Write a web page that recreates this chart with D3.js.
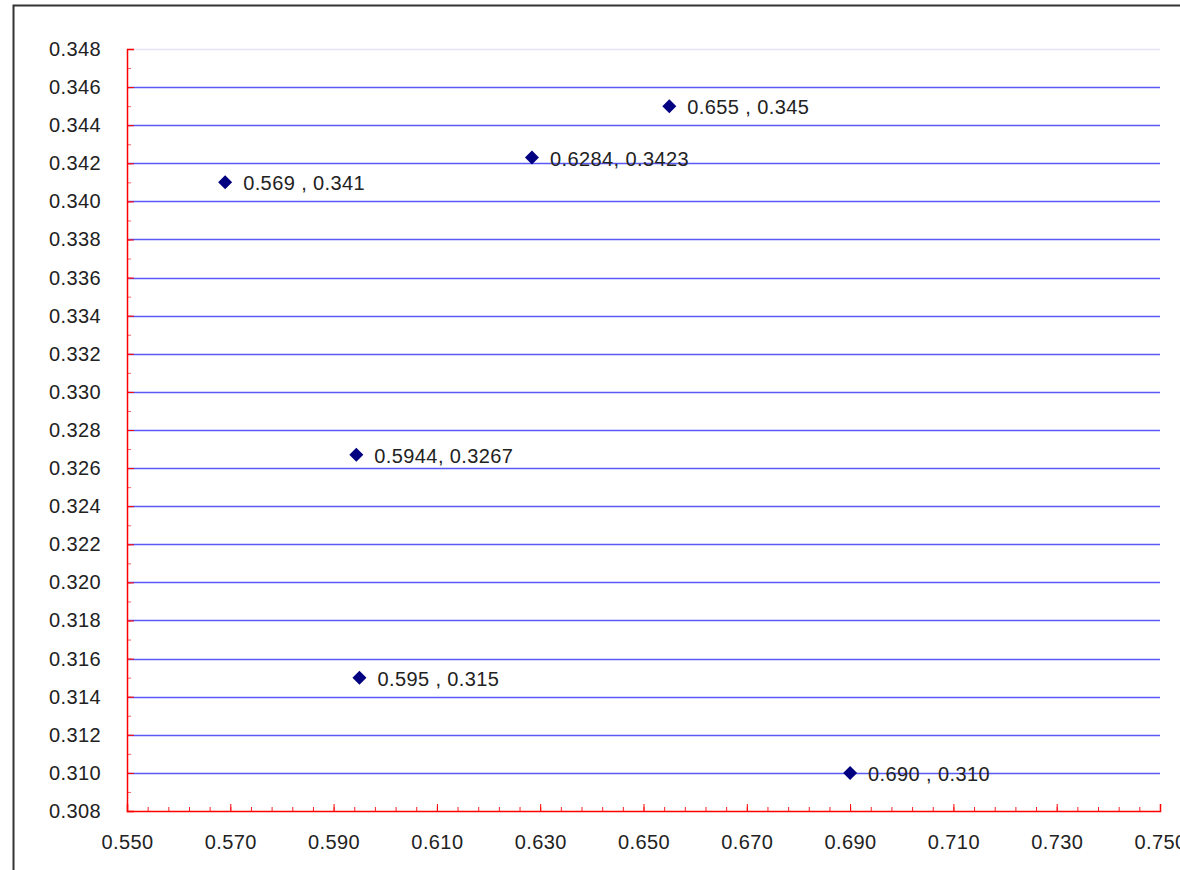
<!DOCTYPE html>
<html>
<head>
<meta charset="utf-8">
<script src="https://cdn.jsdelivr.net/npm/d3@7"></script>
<style>
  body { margin: 0; background: #fff; }
  #chart { width: 1180px; height: 870px; }
  text { font-family: "Liberation Sans", Arial, sans-serif; fill: #222; letter-spacing: 0.4px; }
</style>
</head>
<body>
<div id="chart"></div>
<script>
// data
const xValues = [0.569, 0.6284, 0.655, 0.5944, 0.595, 0.690];
const yValues = [0.341, 0.3423, 0.345, 0.3267, 0.315, 0.310];
const pointLabels = ["0.569 , 0.341", "0.6284, 0.3423", "0.655 , 0.345",
                     "0.5944, 0.3267", "0.595 , 0.315", "0.690 , 0.310"];
const xTickLabels = ["0.550", "0.570", "0.590", "0.610", "0.630", "0.650",
                     "0.670", "0.690", "0.710", "0.730", "0.750"];
const yTickLabels = ["0.308", "0.310", "0.312", "0.314", "0.316", "0.318", "0.320",
                     "0.322", "0.324", "0.326", "0.328", "0.330", "0.332", "0.334",
                     "0.336", "0.338", "0.340", "0.342", "0.344", "0.346", "0.348"];

const W = 1180, H = 870;
const margin = { top: 49, right: 20, bottom: 59, left: 127 };
const width = 1160 - margin.left;
const height = H - margin.top - margin.bottom;

const svg = d3.select("#chart").append("svg")
    .attr("width", W)
    .attr("height", H);

// outer frame (only top and left edges show in the picture)
svg.append("path")
    .attr("d", `M13.5,${H} L13.5,5.5 L${W},5.5`)
    .attr("fill", "none")
    .attr("stroke", "#333")
    .attr("stroke-width", 2);

const g = svg.append("g")
    .attr("transform", `translate(${margin.left},${margin.top})`);

const x = d3.scaleLinear().domain([0.55, 0.75]).range([0, width]);
const y = d3.scaleLinear().domain([0.308, 0.348]).range([height, 0]);

const yMajor = yTickLabels.map(Number);
const xMajor = xTickLabels.map(Number);

// gridlines
g.append("g")
    .selectAll("line")
    .data(yMajor.filter(v => v > 0.3085))
    .join("line")
      .attr("x1", 0)
      .attr("x2", width)
      .attr("y1", d => Math.round(y(d)) + 0.5)
      .attr("y2", d => Math.round(y(d)) + 0.5)
      .attr("stroke", d => d > 0.347 ? "#e4e4f8" : "#5a5af6")
      .attr("stroke-width", 1.3);

// y axis: minor + major ticks pointing inward
const yMinor = d3.range(0, 41).map(i => 0.308 + i * 0.001);
g.append("g")
    .call(d3.axisLeft(y).tickValues(yMinor).tickSize(-4).tickFormat(""))
    .call(a => a.select(".domain").remove())
    .selectAll("line").attr("stroke", "#ff6060");
const yAxis = g.append("g")
    .call(d3.axisLeft(y).tickValues(yMajor).tickSize(-7).tickPadding(26)
      .tickFormat((d, i) => yTickLabels[i]));
yAxis.select(".domain").attr("stroke", "#ff0000").attr("stroke-width", 1.5);
yAxis.selectAll("line").attr("stroke", "#ff0000");
yAxis.selectAll("text")
    .style("font-size", "20px")
    .attr("fill", "#222");

// x axis
const xMinor = d3.range(0, 51).map(i => 0.55 + i * 0.004);
g.append("g")
    .attr("transform", `translate(0,${height})`)
    .call(d3.axisBottom(x).tickValues(xMinor).tickSize(-4).tickFormat(""))
    .call(a => a.select(".domain").remove())
    .selectAll("line").attr("stroke", "#ff2020");
const xAxis = g.append("g")
    .attr("transform", `translate(0,${height})`)
    .call(d3.axisBottom(x).tickValues(xMajor).tickSize(-7).tickPadding(24)
      .tickFormat((d, i) => xTickLabels[i]));
xAxis.select(".domain").attr("stroke", "#ff0000").attr("stroke-width", 1.5);
xAxis.selectAll("line").attr("stroke", "#ff0000");
xAxis.selectAll("text")
    .style("font-size", "20px")
    .attr("fill", "#222");

// points
const points = xValues.map((v, i) => ({ x: v, y: yValues[i], label: pointLabels[i] }));

g.selectAll(".pt")
  .data(points)
  .join("path")
    .attr("class", "pt")
    .attr("transform", d => `translate(${x(d.x)},${y(d.y)})`)
    .attr("d", d3.symbol(d3.symbolDiamond2, 125)())
    .attr("fill", "#000080");

g.selectAll(".lbl")
  .data(points)
  .join("text")
    .attr("class", "lbl")
    .attr("x", d => x(d.x) + 18)
    .attr("y", d => y(d.y) + 1)
    .attr("dy", "0.35em")
    .style("font-size", "20px")
    .text(d => d.label);
</script>
</body>
</html>
